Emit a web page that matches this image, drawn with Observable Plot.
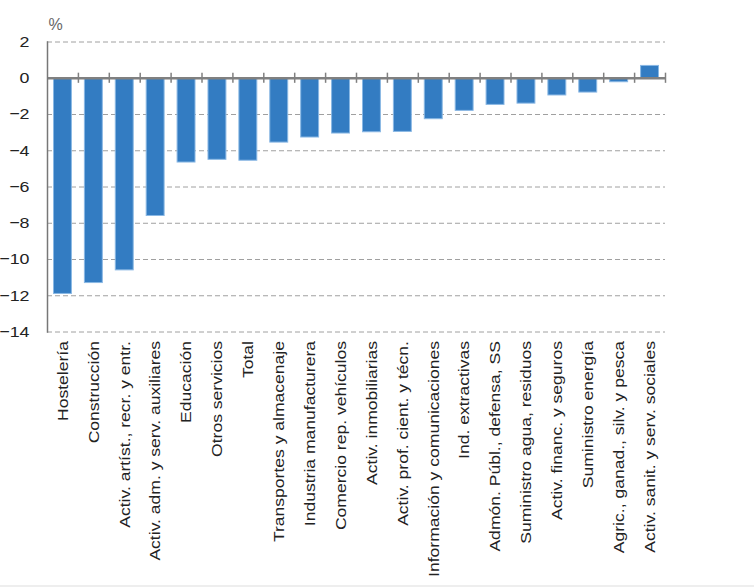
<!DOCTYPE html>
<html>
<head>
<meta charset="utf-8">
<script src="https://cdn.jsdelivr.net/npm/d3@7"></script>
<script src="https://cdn.jsdelivr.net/npm/@observablehq/plot@0.6"></script>
<style>
  html, body { margin: 0; padding: 0; background: #fff; }
  #chart { position: relative; width: 754px; height: 587px; }
  #edge { position: absolute; left: 0; top: 585px; width: 754px; height: 2px; background: #eeeeee; }
</style>
</head>
<body>
<div id="chart"><div id="edge"></div></div>
<script>
const categories = [
  "Hostelería",
  "Construcción",
  "Activ. artíst., recr. y entr.",
  "Activ. adm. y serv. auxiliares",
  "Educación",
  "Otros servicios",
  "Total",
  "Transportes y almacenaje",
  "Industria manufacturera",
  "Comercio rep. vehículos",
  "Activ. inmobiliarias",
  "Activ. prof. cient. y técn.",
  "Información y comunicaciones",
  "Ind. extractivas",
  "Admón. Públ., defensa, SS",
  "Suministro agua, residuos",
  "Activ. financ. y seguros",
  "Suministro energía",
  "Agric., ganad., silv. y pesca",
  "Activ. sanit. y serv. sociales"
];
const values = [-11.9, -11.3, -10.6, -7.6, -4.65, -4.5, -4.55, -3.55, -3.27, -3.05, -2.98, -2.96, -2.26, -1.8, -1.47, -1.4, -0.95, -0.79, -0.22, 0.68];
const yTicks = [2, 0, -2, -4, -6, -8, -10, -12, -14];
const unitLabel = ["%"];

const data = categories.map((c, i) => ({cat: c, val: values[i]}));

const W = 754, H = 587, mL = 47, mR = 89, mT = 41.5, mB = 255.5;
const step = (W - mL - mR) / categories.length;

const chart = Plot.plot({
  width: W,
  height: H,
  marginLeft: mL,
  marginRight: mR,
  marginTop: mT,
  marginBottom: mB,
  style: {fontFamily: "'Liberation Sans', Arial, sans-serif", background: "transparent", color: "#222"},
  x: {type: "band", domain: categories, paddingInner: 0.42, paddingOuter: 0.21, round: false},
  y: {domain: [-14, 2]},
  marks: [
    Plot.gridY(yTicks.filter(d => d !== 0), {stroke: "#a0a0a0", strokeOpacity: 1, strokeWidth: 1, strokeDasharray: "5,3"}),
    Plot.barY(data, {x: "cat", y: "val", fill: "#337cc2", stroke: "#8ab8e4", strokeWidth: 1}),
    Plot.ruleY([0], {stroke: "#808080", strokeWidth: 2.5}),
    Plot.ruleX(categories, {x: d => d, y1: -0.28, y2: 0.28, dx: step / 2, stroke: "#808080", strokeWidth: 1.5}),
    Plot.frame({anchor: "left", stroke: "#777", strokeWidth: 1.5}),
    Plot.axisY(yTicks, {tickSize: 0, tickPadding: 18, fontSize: 15.5, label: null}),
    Plot.axisX({tickRotate: -90, tickSize: 0, tickPadding: 9, fontSize: 15, label: null}),
    Plot.text(unitLabel, {frameAnchor: "top-left", dx: 1, dy: -17, lineAnchor: "middle", textAnchor: "start", fontSize: 16, fill: "#666"})
  ]
});

// Match the reference's slightly stretched glyph proportions
chart.querySelectorAll('g[aria-label="x-axis tick label"] text').forEach(t => {
  t.setAttribute("transform", (t.getAttribute("transform") || "") + " scale(1.17,1)");
});
chart.querySelectorAll('g[aria-label="y-axis tick label"] text').forEach(t => {
  t.setAttribute("transform", (t.getAttribute("transform") || "") + " scale(1.15,1)");
});

document.getElementById("chart").prepend(chart);
</script>
</body>
</html>
